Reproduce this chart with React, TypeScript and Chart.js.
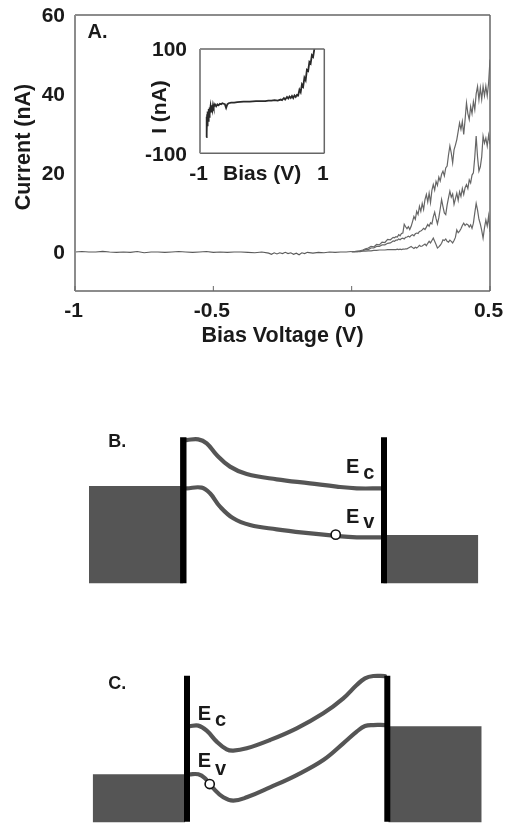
import React, { useEffect, useRef } from "react";
import { Chart, registerables } from "chart.js";

Chart.register(...registerables);

// ---------- Panel A: main I-V curves ----------
const forwardBias = [
  0, 0.01, 0.02, 0.03, 0.04, 0.05, 0.06, 0.07, 0.08, 0.09, 0.1, 0.11, 0.12, 0.13, 0.14, 0.15,
  0.155, 0.16, 0.165, 0.17, 0.175, 0.18, 0.185, 0.19, 0.195, 0.2,
  0.205, 0.21, 0.215, 0.22, 0.225, 0.23, 0.235, 0.24, 0.245, 0.25,
  0.255, 0.26, 0.265, 0.27, 0.275, 0.28, 0.285, 0.29, 0.295, 0.3,
  0.305, 0.31, 0.315, 0.32, 0.325, 0.33, 0.335, 0.34, 0.345, 0.35,
  0.355, 0.36, 0.365, 0.37, 0.375, 0.38, 0.385, 0.39, 0.395, 0.4,
  0.405, 0.41, 0.415, 0.42, 0.425, 0.43, 0.435, 0.44, 0.445, 0.45,
  0.455, 0.46, 0.465, 0.47, 0.475, 0.48, 0.485, 0.49, 0.495, 0.5,
];
const upperTrace = [
  0, 0, 0.1, 0.2, 0.4, 0.7, 0.9, 1.3, 1.2, 1.8, 1.7, 2.4, 2.3, 3.1, 3.0, 3.6,
  3.5, 3.8, 3.7, 4.3, 4.0, 4.6, 4.7, 6.9, 6.3, 5.8,
  6.3, 5.6, 6.4, 7.6, 8.9, 8.2, 10.2, 9.4, 11.5, 10.2,
  12.2, 10.7, 13.2, 14.5, 12.6, 14.8, 12.4, 15.5, 17, 15.6,
  17.8, 16.8, 18.9, 17.9, 19.6, 20.4, 19.2, 21.2, 21.7, 24.5,
  26.8, 25, 22.5, 25.8, 27, 28.4, 30.5, 32.6, 31, 33,
  29.7, 33.5, 37.7, 35, 33.5, 36.8, 35, 38, 36, 40,
  41.9, 38.5, 41.5, 38.6, 41.9, 39.5, 42, 39.5, 42.8, 48.7,
];
const middleTrace = [
  0, 0, 0, 0.1, 0.2, 0.5, 0.5, 0.9, 0.9, 1.3, 1.3, 1.7, 1.7, 2.1, 2.2, 2.7,
  2.6, 2.9, 2.9, 3.2, 3, 3.3, 3.4, 3.2, 3.6, 3.7,
  3.9, 3.7, 4.1, 4.3, 4, 4.5, 4.7, 4.6, 5.1, 5.2,
  5.5, 5.9, 5.6, 6.2, 6.9, 6.4, 7.3, 7, 8.8, 10,
  8.4, 7, 8.6, 10.8, 13.2, 11.4, 9.8, 9.4, 11.8, 13.6,
  15.3, 13.8, 14.6, 12, 13.4, 14.8, 13, 15.2, 14, 16,
  14.5, 16.2, 17, 16, 18.2, 17.4, 19.4, 20, 24, 29.3,
  24, 20.4, 21.5, 24, 29.3, 27.5, 28.8, 26.8, 29.5, 27.2,
];
const lowerTrace = [
  0, 0, 0, 0, 0.1, 0.1, 0.2, 0.2, 0.3, 0.3, 0.4, 0.4, 0.4, 0.5, 0.5, 0.5,
  0.5, 0.5, 0.6, 0.5, 0.6, 0.5, 0.6, 0.6, 0.7, 0.7,
  0.9, 1.1, 1.3, 1, 0.8, 1.1, 0.9, 1.2, 1.6, 1.3,
  1.4, 1.7, 1.9, 1.5, 2.1, 2.6, 2.2, 2.8, 3.4, 2.6,
  1.8, 0.9, 1.2, 1.6, 2.1, 3, 2.8, 3.2, 2.6, 2.4,
  2.9, 2.6, 2.2, 2.8, 3.6, 5.5, 4.8, 5.2, 5.8, 6.6,
  7.2, 6.6, 7, 6.8, 6.2, 6.8, 5.9, 7.2, 9.8, 12.2,
  10.5, 8.2, 7, 5.4, 3.4, 6, 8, 6.5, 9, 5,
];
const reverseBias = [
  -1, -0.975, -0.95, -0.925, -0.9, -0.875, -0.85, -0.825, -0.8, -0.775, -0.75, -0.725, -0.7, -0.675,
  -0.65, -0.625, -0.6, -0.575, -0.55, -0.525, -0.5, -0.475, -0.45, -0.425, -0.4, -0.375, -0.35, -0.325,
  -0.3, -0.29, -0.28, -0.27, -0.26, -0.25, -0.24, -0.23, -0.22, -0.21, -0.2, -0.19, -0.18, -0.17, -0.16,
  -0.14, -0.12, -0.1, -0.08, -0.06, -0.04, -0.02, 0,
];
const reverseTrace = [
  -0.1, 0, -0.1, -0.1, 0.05, -0.1, -0.2, -0.1, -0.2, 0, -0.3, -0.1, -0.1, -0.2,
  -0.1, 0, -0.1, -0.2, -0.1, 0, -0.2, -0.1, -0.2, -0.1, -0.1, -0.2, -0.3, -0.1,
  -0.4, -0.7, -0.3, -0.6, -0.3, -0.5, -0.2, -0.5, -0.3, -0.7, -0.4, -0.8, -0.3, -0.5, -0.2,
  -0.4, -0.2, -0.3, -0.1, -0.2, -0.1, -0.1, 0,
];
const mainXTicks = [-1, -0.5, 0, 0.5];
const mainYTicks = [0, 20, 40, 60];

// ---------- Inset ----------
const insetBias = [
  -0.9, -0.895, -0.89, -0.885, -0.88, -0.875, -0.87, -0.86, -0.855, -0.85, -0.84, -0.83, -0.82, -0.81,
  -0.8, -0.79, -0.78, -0.76, -0.74, -0.72, -0.7, -0.68, -0.66, -0.64, -0.62, -0.6, -0.58, -0.56, -0.54,
  -0.5, -0.45, -0.4, -0.3, -0.2, -0.1, 0, 0.05, 0.1, 0.15, 0.2, 0.25, 0.3, 0.32, 0.35, 0.37, 0.4, 0.42,
  0.44, 0.46, 0.48, 0.5, 0.52, 0.54, 0.56, 0.58, 0.6, 0.62, 0.64, 0.66, 0.68, 0.7, 0.72, 0.74, 0.76,
  0.78, 0.8, 0.82, 0.84, 0.86,
];
const insetCurrent = [
  -69, -30, -60, -25, -48, -20, -38, -15, -30, -12, -25, -10, -20, -8,
  -16, -7, -12, -6, -10, -6, -8, -5, -6, -4, -5, -6, -13, -6, -4,
  -3, -3, -2, -1, -1, 0, 0, 0, 1, 1, 2, 1, 3, 2, 6, 3, 8, 5,
  9, 6, 10, 6, 11, 8, 12, 11, 22, 17, 32, 28, 45, 40, 60, 58, 75,
  72, 88, 85, 100, 110,
];
const insetXTicks = [-1, 1];
const insetYTicks = [-100, 100];

// ---------- Panel B: band diagram ----------
const bEcPos = [116.7, 128.3, 136.7, 146.7, 160, 176.7, 206.7, 240, 266.7, 286.7, 311.7];
const bEcEnergy = [143.3, 144, 140, 128.3, 116.7, 109.3, 104, 100, 96.7, 95, 95];
const bEvPos = [116.7, 131.7, 140, 150, 163.3, 180, 206.7, 233.3, 263.3, 286.7, 311.7];
const bEvEnergy = [95, 95.7, 90, 76.7, 65, 58.3, 54, 50.7, 47.7, 46, 46];
const bHole = { pos: [265.7], energy: [48.7] };
const bBarriers = [113.3, 314];
const bBarrierEnergy = [0, 146];
const bLeadLeft = { pos: [19, 113.3], energy: [97.3, 97.3] };
const bLeadRight = { pos: [313.3, 408.3], energy: [48.3, 48.3] };

// ---------- Panel C: band diagram ----------
const cPos = [119.3, 128.3, 136.7, 146.7, 156.7, 163.3, 176.7, 200, 226.7, 253.3, 273.3, 286.7, 295, 303.3, 315];
const cEcEnergy = [96, 96.7, 91.7, 80.7, 73, 71.7, 74, 82.3, 94, 109, 124, 137.3, 144, 146.3, 146.3];
const cEvPos = [119.3, 128.3, 135, 143.3, 153.3, 163.3, 176.7, 200, 226.7, 253.3, 273.3, 286.7, 295, 303.3, 315];
const cEvEnergy = [48, 48, 44, 34, 25, 21.7, 25, 35, 47.3, 62.3, 79, 90.7, 96.3, 97.3, 97.3];
const cHole = { pos: [139.7], energy: [38.3] };
const cBarriers = [117, 317.3];
const cBarrierEnergy = [0.7, 146.7];
const cLeadLeft = { pos: [22.7, 115], energy: [48, 48] };
const cLeadRight = { pos: [318.3, 411.7], energy: [96, 96] };

const FONT = '"Liberation Sans", Arial, sans-serif';
const INK = "#1a1a1a";
const AXIS = "#666666";
const AXIS_LEFT = "#8c8c8c";
const BAND = "#555555";

type Note = { text: string; x: number; y: number; size: number };

const zip = (xs: number[], ys: number[]) => xs.map((x, i) => ({ x, y: ys[i] }));

const notesPlugin = (notes: Note[]) => ({
  id: "notes",
  afterDraw(chart: any) {
    const { ctx, scales } = chart;
    ctx.save();
    ctx.fillStyle = INK;
    ctx.textAlign = "left";
    ctx.textBaseline = "alphabetic";
    for (const n of notes) {
      ctx.font = `bold ${n.size}px ${FONT}`;
      ctx.fillText(n.text, scales.x.getPixelForValue(n.x), scales.y.getPixelForValue(n.y));
    }
    ctx.restore();
  },
});

const framePlugin = (innerTick: number) => ({
  id: "frame",
  afterDatasetsDraw(chart: any) {
    const { ctx, chartArea: a, scales } = chart;
    const stroke = (color: string, width: number, x1: number, y1: number, x2: number, y2: number) => {
      ctx.strokeStyle = color;
      ctx.lineWidth = width;
      ctx.beginPath();
      ctx.moveTo(x1, y1);
      ctx.lineTo(x2, y2);
      ctx.stroke();
    };
    ctx.save();
    stroke(AXIS, 1.3, a.left, a.top, a.right, a.top);
    stroke(AXIS, 1.5, a.right, a.top, a.right, a.bottom);
    stroke(AXIS, 1.5, a.left, a.bottom, a.right, a.bottom);
    stroke(AXIS_LEFT, 2, a.left, a.top, a.left, a.bottom);
    if (innerTick > 0) {
      for (const t of scales.x.ticks) {
        const px = scales.x.getPixelForValue(t.value);
        stroke(AXIS, 1, px, a.bottom, px, a.bottom - innerTick);
      }
    }
    ctx.restore();
  },
});

const noPadding = (s: any) => {
  s.paddingTop = 0;
  s.paddingBottom = 0;
  s.paddingLeft = 0;
  s.paddingRight = 0;
};

const plotOptions = (cfg: any) => ({
  responsive: false,
  animation: false as const,
  events: [],
  layout: { autoPadding: false, padding: cfg.padding },
  plugins: { legend: { display: false }, tooltip: { enabled: false } },
  scales: {
    x: {
      type: "linear",
      min: cfg.x.min,
      max: cfg.x.max,
      afterFit: (s: any) => { s.height = cfg.x.band; noPadding(s); },
      afterBuildTicks: (s: any) => { s.ticks = cfg.x.ticks.map((value: number) => ({ value })); },
      border: { display: false },
      grid: { drawOnChartArea: false, drawTicks: false },
      ticks: {
        autoSkip: false,
        maxRotation: 0,
        padding: cfg.x.pad,
        labelOffset: -1.5,
        color: INK,
        font: { family: FONT, weight: "bold", size: cfg.font },
        callback: (v: number) => String(v),
      },
      title: {
        display: true,
        text: cfg.x.title,
        color: INK,
        font: { family: FONT, weight: "bold", size: cfg.titleFont },
        padding: 0,
      },
    },
    y: {
      type: "linear",
      min: cfg.y.min,
      max: cfg.y.max,
      afterFit: (s: any) => { s.width = cfg.y.band; noPadding(s); },
      afterBuildTicks: (s: any) => { s.ticks = cfg.y.ticks.map((value: number) => ({ value })); },
      border: { display: false },
      grid: { drawOnChartArea: false, drawTicks: false },
      ticks: {
        autoSkip: false,
        padding: cfg.y.pad,
        labelOffset: 1.5,
        color: INK,
        font: { family: FONT, weight: "bold", size: cfg.font },
        callback: (v: number) => String(v),
      },
      title: {
        display: true,
        text: cfg.y.title,
        color: INK,
        font: { family: FONT, weight: "bold", size: cfg.titleFont },
        padding: { top: cfg.y.titleOffset, bottom: 0 },
      },
    },
  },
});

const trace = (data: any[], color: string, width: number) => ({
  type: "scatter" as const,
  data,
  showLine: true,
  borderColor: color,
  borderWidth: width,
  pointRadius: 0,
  tension: 0,
});

const bandLine = (xs: number[], ys: number[]) => ({
  ...trace(zip(xs, ys), BAND, 4.2),
  tension: 0.4,
  borderCapStyle: "round",
});

const barrier = (x: number, energies: number[], width: number) =>
  trace(energies.map((y) => ({ x, y })), "#000000", width);

const lead = (l: { pos: number[]; energy: number[] }) => ({
  ...trace(zip(l.pos, l.energy), BAND, 0),
  fill: { value: 0 },
  backgroundColor: BAND,
});

const hole = (h: { pos: number[]; energy: number[] }) => ({
  type: "scatter" as const,
  data: zip(h.pos, h.energy),
  showLine: false,
  pointRadius: 4.6,
  pointBackgroundColor: "#ffffff",
  pointBorderColor: "#111111",
  pointBorderWidth: 1.6,
});

const diagramOptions = (min: number, max: number) => ({
  responsive: false,
  animation: false as const,
  events: [],
  layout: { autoPadding: false, padding: 0 },
  plugins: { legend: { display: false }, tooltip: { enabled: false } },
  scales: {
    x: { type: "linear", display: false, min: 0, max: 420 },
    y: { type: "linear", display: false, min, max },
  },
});

const panels = [
  { left: 0, top: 0, width: 509, height: 349 },
  { left: 130, top: 35, width: 215, height: 152 },
  { left: 70, top: 420, width: 420, height: 180 },
  { left: 70, top: 660, width: 420, height: 163 },
];

export default function App() {
  const refs = [
    useRef<HTMLCanvasElement>(null),
    useRef<HTMLCanvasElement>(null),
    useRef<HTMLCanvasElement>(null),
    useRef<HTMLCanvasElement>(null),
  ];

  useEffect(() => {
    const charts: Chart[] = [];

    charts.push(
      new Chart(refs[0].current!, {
        type: "scatter",
        data: {
          datasets: [
            trace(zip(reverseBias, reverseTrace), "#5a5a5a", 1.1),
            trace(zip(forwardBias, upperTrace), "#666666", 1.2),
            trace(zip(forwardBias, middleTrace), "#666666", 1.2),
            trace(zip(forwardBias, lowerTrace), "#666666", 1.2),
          ] as any,
        },
        options: plotOptions({
          padding: { top: 15, right: 19, left: 0, bottom: 0 },
          font: 21,
          titleFont: 21.5,
          x: { min: -1, max: 0.5, ticks: mainXTicks, band: 58, pad: 8, title: "Bias Voltage (V)" },
          y: { min: -10, max: 60, ticks: mainYTicks, band: 75, pad: 10, title: "\u00a0\u00a0Current (nA)", titleOffset: 11 },
        }) as any,
        plugins: [framePlugin(5), notesPlugin([{ text: "A.", x: -0.955, y: 54.2, size: 20 }])],
      })
    );

    charts.push(
      new Chart(refs[1].current!, {
        type: "scatter",
        data: { datasets: [trace(zip(insetBias, insetCurrent), "#2a2a2a", 1.8)] as any },
        options: plotOptions({
          padding: { top: 14, right: 20.7, left: 0, bottom: 0 },
          font: 21,
          titleFont: 21,
          x: { min: -1, max: 1, ticks: insetXTicks, band: 33.7, pad: 8, title: "Bias (V)" },
          y: { min: -100, max: 100, ticks: insetYTicks, band: 70, pad: 13, title: "I (nA)\u00a0\u00a0", titleOffset: 18 },
        }) as any,
        plugins: [framePlugin(0)],
      })
    );

    charts.push(
      new Chart(refs[2].current!, {
        type: "scatter",
        data: {
          datasets: [
            hole(bHole),
            barrier(bBarriers[0], bBarrierEnergy, 6.4),
            barrier(bBarriers[1], bBarrierEnergy, 6),
            bandLine(bEcPos, bEcEnergy),
            bandLine(bEvPos, bEvEnergy),
            lead(bLeadLeft),
            lead(bLeadRight),
          ] as any,
        },
        options: diagramOptions(-16.67, 163.33) as any,
        plugins: [
          notesPlugin([
            { text: "B.", x: 38.3, y: 136, size: 18 },
            { text: "E", x: 276, y: 110, size: 20 },
            { text: "c", x: 293.3, y: 104, size: 20 },
            { text: "E", x: 276, y: 60, size: 20 },
            { text: "v", x: 293.3, y: 55, size: 20 },
          ]),
        ],
      })
    );

    charts.push(
      new Chart(refs[3].current!, {
        type: "scatter",
        data: {
          datasets: [
            hole(cHole),
            barrier(cBarriers[0], cBarrierEnergy, 6),
            barrier(cBarriers[1], cBarrierEnergy, 6),
            bandLine(cPos, cEcEnergy),
            bandLine(cEvPos, cEvEnergy),
            lead(cLeadLeft),
            lead(cLeadRight),
          ] as any,
        },
        options: diagramOptions(-0.67, 162.33) as any,
        plugins: [
          notesPlugin([
            { text: "C.", x: 38.3, y: 133, size: 18 },
            { text: "E", x: 127.7, y: 102.3, size: 20 },
            { text: "c", x: 145, y: 96.7, size: 20 },
            { text: "E", x: 127.7, y: 55, size: 20 },
            { text: "v", x: 145, y: 47.3, size: 20 },
          ]),
        ],
      })
    );

    return () => charts.forEach((c) => c.destroy());
  }, []);

  return (
    <div style={{ position: "absolute", left: 0, top: 0, width: 509, height: 823, overflow: "hidden", background: "#fff" }}>
      {panels.map((p, i) => (
        <canvas
          key={i}
          ref={refs[i]}
          width={p.width}
          height={p.height}
          style={{ position: "absolute", left: p.left, top: p.top, width: p.width, height: p.height, filter: "blur(0.45px)" }}
        />
      ))}
    </div>
  );
}
